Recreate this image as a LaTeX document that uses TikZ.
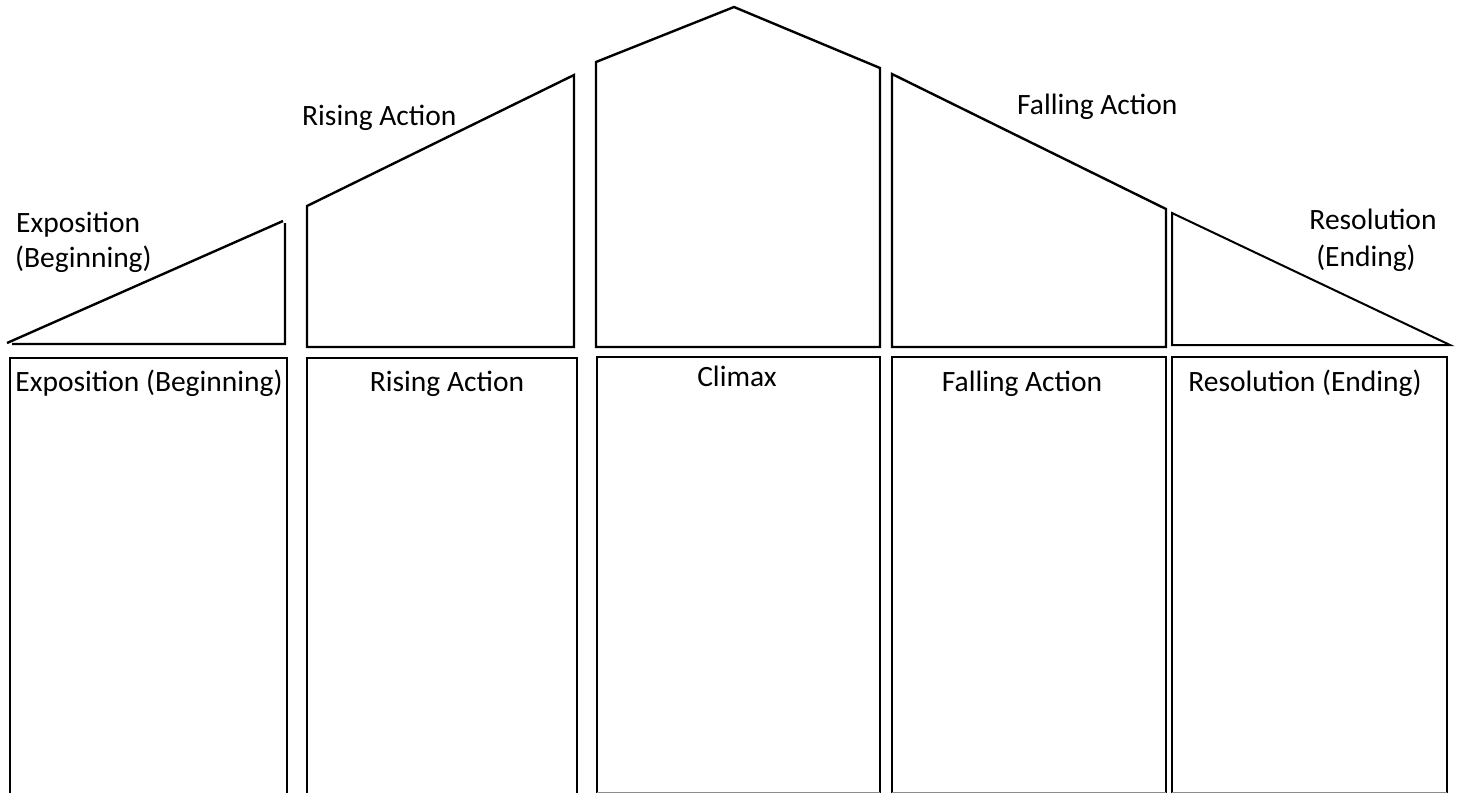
\documentclass[tikz,border=0pt]{standalone}
\usepackage{fontspec}
\setmainfont{Carlito}
\begin{document}
\begin{tikzpicture}[x=1pt,y=-1pt,
  shapeline/.style={draw=black,line width=2.4pt,line join=miter},
  lbl/.style={inner sep=0pt,font=\fontsize{29.5}{36}\selectfont},
  faint/.style={draw=black!45,line width=1pt}]
\useasboundingbox (0,0) rectangle (1457,793);
% top shapes
\draw[shapeline] (7,343) -- (283,221) (285,223) -- (285,344) -- (12,344);
\draw[shapeline] (307,206) -- (574,75) -- (574,347) -- (307,347) -- cycle;
\draw[shapeline] (596,62) -- (734,7) -- (880,68) -- (880,347) -- (596,347) -- cycle;
\draw[shapeline] (892,74) -- (1166,209) -- (1166,347) -- (892,347) -- cycle;
\draw[shapeline,line width=2pt] (1172,213) -- (1450,345) -- (1172,345) -- cycle;
% bottom boxes
\draw[shapeline] (10,793) -- (10,358) -- (287,358) -- (287,793);
\draw[shapeline] (307,793) -- (307,358) -- (577,358) -- (577,793);
\draw[shapeline] (597,793) -- (597,357) -- (880,357) -- (880,793);
\draw[shapeline] (892,793) -- (892,357) -- (1166,357) -- (1166,793);
\draw[shapeline] (1172,793) -- (1172,357) -- (1447,357) -- (1447,793);
\draw[faint] (597,792.5) -- (880,792.5) (892,792.5) -- (1166,792.5) (1172,792.5) -- (1447,792.5);
% top labels
\node[lbl,anchor=base west] (expT) at (16,232) {Exposition};
\node[lbl,anchor=base west] (expT2) at (15,267) {(Beginning)};
\node[lbl,anchor=base west] (risT) at (302,125) {Rising Action};
\node[lbl,anchor=base west] (falT) at (1017,114) {Falling Action};
\node[lbl,anchor=base] (resT) at (1373,229) {Resolution};
\node[lbl,anchor=base] (resT2) at (1366,266) {(Ending)};
% box labels
\node[lbl,anchor=base] (expB) at (149,391) {Exposition (Beginning)};
\node[lbl,anchor=base] (risB) at (447,391) {Rising Action};
\node[lbl,anchor=base] (cliB) at (737,386) {Climax};
\node[lbl,anchor=base] (falB) at (1022,391) {Falling Action};
\node[lbl,anchor=base] (resB) at (1305,391) {Resolution (Ending)};
\end{tikzpicture}
\end{document}
